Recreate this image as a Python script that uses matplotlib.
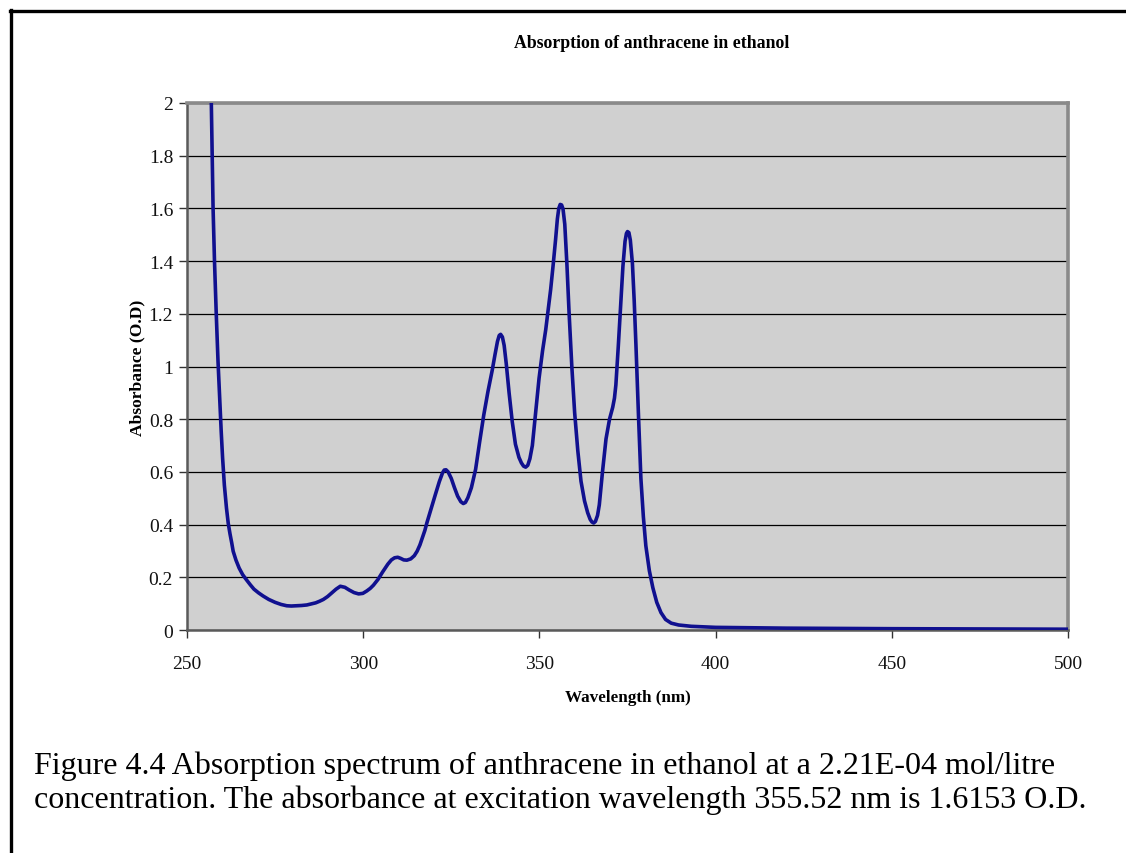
import numpy as np
import matplotlib
matplotlib.use('Agg')
import matplotlib.pyplot as plt
from matplotlib.lines import Line2D

plt.rcParams['font.family'] = ['Liberation Serif', 'DejaVu Serif']

# wavelength (nm) and absorbance (O.D.)
wavelength = [256.7, 256.9, 257.4, 257.8, 258.3, 258.8, 259.3, 259.7, 260.1, 260.6,
              261.2, 261.7, 262.2, 262.7, 263.1, 263.9, 264.8, 265.8, 266.9, 268.0,
              269.0, 270.3, 271.6, 273.2, 275.0, 276.7, 278.3, 279.6, 281.0, 282.5,
              284.0, 285.3, 286.5, 287.6, 288.7, 289.9, 291.0, 292.3, 293.5, 294.8,
              296.0, 297.4, 298.7, 299.9, 301.0, 302.0, 302.9, 304.2, 305.5, 307.0,
              308.0, 308.9, 309.8, 310.6, 311.5, 312.4, 313.5, 314.5, 315.3, 316.1,
              316.8, 317.5, 318.1, 319.3, 320.5, 321.6, 322.5, 323.0, 323.5, 324.1,
              325.0, 325.9, 326.8, 327.7, 328.4, 329.0, 329.7, 330.7, 331.9, 333.0,
              334.2, 335.4, 336.6, 337.4, 338.1, 338.6, 339.0, 339.5, 340.0, 340.6,
              341.4, 342.3, 343.2, 344.2, 344.9, 345.5, 346.1, 346.7, 347.3, 348.0,
              348.9, 349.9, 350.9, 351.8, 352.5, 353.2, 353.9, 354.6, 355.1, 355.5,
              355.9, 356.3, 356.7, 357.2, 357.8, 358.4, 359.2, 360.0, 360.9, 361.8,
              362.8, 363.7, 364.4, 364.9, 365.4, 365.9, 366.5, 367.0, 367.9, 368.9,
              369.9, 370.8, 371.3, 371.7, 372.4, 373.1, 373.7, 374.3, 374.7, 375.0,
              375.4, 375.8, 376.4, 376.9, 377.4, 378.1, 378.8, 379.5, 380.2, 381.2,
              382.2, 383.3, 384.5, 385.8, 387.4, 389.5, 393.1, 400.0, 420.0, 450.0,
              480.0, 500.5]
absorbance = [2.08, 2.0, 1.6, 1.4, 1.2, 1.02, 0.871, 0.755, 0.653, 0.55,
              0.463, 0.405, 0.365, 0.330, 0.299, 0.265, 0.235, 0.210, 0.190, 0.171,
              0.155, 0.141, 0.129, 0.116, 0.105, 0.097, 0.092, 0.091, 0.092, 0.093,
              0.095, 0.099, 0.103, 0.109, 0.116, 0.127, 0.140, 0.155, 0.166, 0.162,
              0.152, 0.142, 0.137, 0.139, 0.148, 0.158, 0.170, 0.192, 0.220, 0.250,
              0.266, 0.274, 0.276, 0.272, 0.266, 0.265, 0.270, 0.282, 0.299, 0.323,
              0.350, 0.378, 0.408, 0.462, 0.515, 0.563, 0.596, 0.607, 0.608, 0.600,
              0.575, 0.540, 0.508, 0.487, 0.480, 0.484, 0.502, 0.540, 0.610, 0.710,
              0.815, 0.905, 0.985, 1.045, 1.095, 1.118, 1.122, 1.112, 1.080, 1.010,
              0.900, 0.790, 0.705, 0.655, 0.634, 0.622, 0.618, 0.625, 0.650, 0.700,
              0.820, 0.955, 1.060, 1.140, 1.215, 1.293, 1.385, 1.483, 1.560, 1.600,
              1.615, 1.613, 1.598, 1.540, 1.390, 1.210, 1.000, 0.825, 0.680, 0.565,
              0.490, 0.445, 0.420, 0.410, 0.406, 0.412, 0.435, 0.475, 0.600, 0.725,
              0.800, 0.845, 0.880, 0.930, 1.080, 1.240, 1.380, 1.475, 1.505, 1.512,
              1.508, 1.480, 1.390, 1.250, 1.080, 0.820, 0.575, 0.430, 0.320, 0.225,
              0.160, 0.105, 0.066, 0.040, 0.026, 0.019, 0.014, 0.010, 0.007, 0.005,
              0.004, 0.003]

y_ticks = [0, 0.2, 0.4, 0.6, 0.8, 1, 1.2, 1.4, 1.6, 1.8, 2]
y_tick_labels = ['0', '0.2', '0.4', '0.6', '0.8', '1', '1.2', '1.4', '1.6', '1.8', '2']
x_ticks = [250, 300, 350, 400, 450, 500]

W, H = 1126, 854
fig = plt.figure(figsize=(W / 100, H / 100), dpi=100)
fig.patch.set_facecolor('white')

# plot area in pixels: left 187, right 1068, top 104, bottom 631
ax = fig.add_axes([187 / W, 1 - 631 / H, (1068 - 187) / W, (631 - 104) / H])
ax.set_facecolor('#d0d0d0')

ax.plot(wavelength, absorbance, color='#10108f', lw=2.6, solid_joinstyle='round',
        solid_capstyle='round', zorder=3, clip_on=True)

ax.set_xlim(250, 500)
ax.set_ylim(0, 2)
ax.set_yticks(y_ticks)
ax.set_yticklabels(y_tick_labels)
ax.set_xticks(x_ticks)
ax.yaxis.grid(True, color='black', lw=0.9)
ax.set_axisbelow(True)

ax.tick_params(axis='both', direction='out', length=6, width=1, color='#333333',
               labelsize=14, labelcolor='#111111')
ax.tick_params(axis='x', pad=12)
ax.tick_params(axis='y', pad=4)

for side in ['top', 'right']:
    ax.spines[side].set_color('#8a8a8a')
    ax.spines[side].set_linewidth(2.6)
for side in ['left', 'bottom']:
    ax.spines[side].set_color('#5a5a5a')
    ax.spines[side].set_linewidth(1.8)

ax.set_xlabel('Wavelength (nm)', fontsize=12.3, fontweight='bold', labelpad=12)
ax.set_ylabel('Absorbance (O.D)', fontsize=12.6, fontweight='bold', labelpad=2)

fig.text(652 / W, 1 - 43 / H, 'Absorption of anthracene in ethanol',
         ha='center', va='center', fontsize=12.8, fontweight='bold')

fig.text(34 / W, 1 - 766 / H,
         'Figure 4.4 Absorption spectrum of anthracene in ethanol at a 2.21E-04 mol/litre',
         ha='left', va='center', fontsize=23)
fig.text(34 / W, 1 - 800 / H,
         'concentration. The absorbance at excitation wavelength 355.52 nm is 1.6153 O.D.',
         ha='left', va='center', fontsize=23)

# outer frame (top and left edges)
fig.add_artist(Line2D([9.5 / W, 1.0], [1 - 12 / H, 1 - 12 / H], color='black', lw=2.4,
                      transform=fig.transFigure))
fig.add_artist(Line2D([10.5 / W, 10.5 / W], [1 - 11 / H, 0], color='black', lw=2.4,
                      transform=fig.transFigure))

fig.savefig('out.png', dpi=100)
